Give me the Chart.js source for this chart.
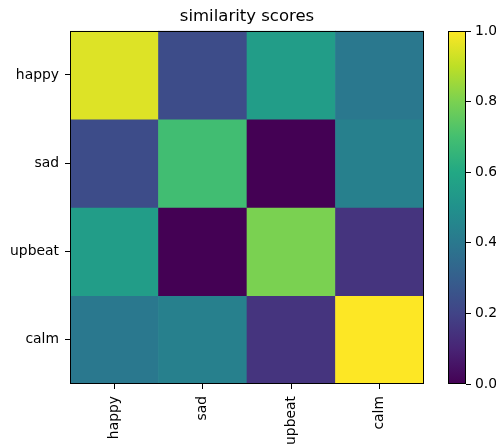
<!DOCTYPE html>
<html>
<head>
<meta charset="utf-8">
<script src="https://cdn.jsdelivr.net/npm/chart.js@4"></script>
<style>
  html, body { margin: 0; padding: 0; background: #fff; }
  #wrap { position: relative; width: 496px; height: 447px; overflow: hidden; }
  #main { position: absolute; left: 0; top: 0; }
  #cbar { position: absolute; left: 440px; top: 0; }
</style>
</head>
<body>
<div id="wrap">
  <canvas id="main" width="496" height="447"></canvas>
  <canvas id="cbar" width="56" height="447"></canvas>
</div>
<script>
// words compared against each other
const rowLabels = ['happy', 'sad', 'upbeat', 'calm'];
const colLabels = ['happy', 'sad', 'upbeat', 'calm'];

// similarity scores, one array per row
const happyRow  = [0.95, 0.23, 0.55, 0.40];
const sadRow    = [0.23, 0.69, 0.00, 0.43];
const upbeatRow = [0.55, 0.00, 0.80, 0.15];
const calmRow   = [0.40, 0.43, 0.15, 1.00];
const scoreRows = [happyRow, sadRow, upbeatRow, calmRow];

// colour bar range + ticks
const cbarMin = 0;
const cbarMax = 1;
const cbarStep = 0.2;

// viridis colour map stops (0, 0.1, ... 1)
const viridis = ['#440154', '#482475', '#414487', '#355f8d', '#2a788e',
  '#21918c', '#22a884', '#44bf70', '#7ad151', '#bddf26', '#fde725'];

const FONT = 'DejaVu Sans';

function hexToRgb(h) {
  return [parseInt(h.slice(1, 3), 16), parseInt(h.slice(3, 5), 16), parseInt(h.slice(5, 7), 16)];
}

function viridisColor(v) {
  let t = (v - cbarMin) / (cbarMax - cbarMin);
  t = Math.max(0, Math.min(1, t));
  const pos = t * (viridis.length - 1);
  const i = Math.min(Math.floor(pos), viridis.length - 2);
  const f = pos - i;
  const a = hexToRgb(viridis[i]), b = hexToRgb(viridis[i + 1]);
  const c = a.map((x, k) => Math.round(x + (b[k] - x) * f));
  return 'rgb(' + c.join(',') + ')';
}

// draws the black frame round the plot area
const framePlugin = {
  id: 'frame',
  afterDatasetsDraw(chart) {
    const { ctx, chartArea: a } = chart;
    ctx.save();
    ctx.strokeStyle = '#000';
    ctx.lineWidth = 1;
    ctx.strokeRect(Math.round(a.left) + 0.5, Math.round(a.top) + 0.5,
      Math.round(a.right - a.left) - 1, Math.round(a.bottom - a.top) - 1);
    ctx.restore();
  }
};

Chart.defaults.font.family = FONT;
Chart.defaults.color = '#000';
Chart.defaults.animation = false;

new Chart(document.getElementById('main').getContext('2d'), {
  type: 'bar',
  data: {
    labels: colLabels,
    datasets: scoreRows.map((row, r) => ({
      label: rowLabels[r],
      data: row.map(() => 1),
      backgroundColor: row.map(v => viridisColor(v)),
      borderWidth: 0,
      barPercentage: 1,
      categoryPercentage: 1
    }))
  },
  options: {
    responsive: false,
    layout: { padding: { left: 0, right: 72, top: 0, bottom: 0 } },
    plugins: {
      legend: { display: false },
      tooltip: { enabled: false },
      title: {
        display: true,
        text: 'similarity scores',
        fullSize: false,
        font: { size: 16.5, weight: 'normal' },
        padding: { top: 7, bottom: 4 }
      }
    },
    scales: {
      x: {
        stacked: true,
        offset: true,
        border: { display: false },
        grid: { drawOnChartArea: false, drawTicks: true, tickLength: 5, color: '#000', offset: false },
        ticks: { font: { size: 13.9 }, minRotation: 90, maxRotation: 90, padding: 7 },
        afterFit(scale) { scale.height = 63; }
      },
      y: {
        stacked: true,
        min: 0,
        max: rowLabels.length,
        reverse: true,
        border: { display: false },
        grid: { drawOnChartArea: false, drawTicks: true, tickLength: 5, color: '#000' },
        afterBuildTicks(scale) {
          scale.ticks = rowLabels.map((_, i) => ({ value: i + 0.5 }));
        },
        ticks: {
          font: { size: 13.9 },
          padding: 6,
          callback: (value) => rowLabels[Math.floor(value)]
        },
        afterFit(scale) { scale.width = 70; }
      }
    }
  },
  plugins: [framePlugin]
});

// colour bar
new Chart(document.getElementById('cbar').getContext('2d'), {
  type: 'bar',
  data: {
    labels: [''],
    datasets: [{
      data: [cbarMax],
      borderWidth: 0,
      barPercentage: 1,
      categoryPercentage: 1,
      backgroundColor(context) {
        const { ctx, chartArea } = context.chart;
        if (!chartArea) return viridis[0];
        const g = ctx.createLinearGradient(0, chartArea.bottom, 0, chartArea.top);
        viridis.forEach((c, i) => g.addColorStop(i / (viridis.length - 1), c));
        return g;
      }
    }]
  },
  options: {
    responsive: false,
    layout: { padding: { left: 8, right: 0, top: 31, bottom: 63 } },
    plugins: { legend: { display: false }, tooltip: { enabled: false } },
    scales: {
      x: { display: false },
      y: {
        position: 'right',
        min: cbarMin,
        max: cbarMax,
        border: { display: false },
        grid: { drawOnChartArea: false, drawTicks: true, tickLength: 5, color: '#000' },
        ticks: {
          stepSize: cbarStep,
          font: { size: 13.9 },
          padding: 4,
          callback: (v) => v.toFixed(1)
        },
        afterFit(scale) { scale.width = 30; }
      }
    }
  },
  plugins: [framePlugin]
});
</script>
</body>
</html>
